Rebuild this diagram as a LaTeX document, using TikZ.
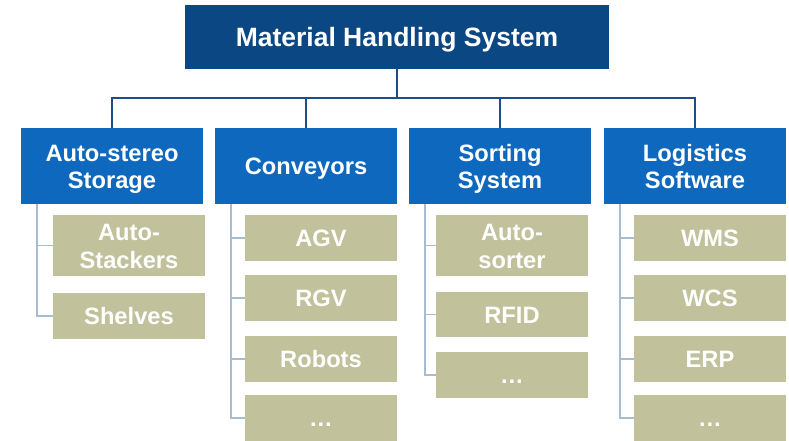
\documentclass[tikz,border=0pt]{standalone}
\usepackage{fontspec}
\setmainfont{Liberation Sans}
\definecolor{rootblue}{RGB}{11,71,131}
\definecolor{catblue}{RGB}{14,104,189}
\definecolor{itemtan}{RGB}{193,193,156}
\definecolor{busblue}{RGB}{28,78,138}
\definecolor{treegray}{RGB}{167,187,209}
\begin{document}
\begin{tikzpicture}[x=1pt,y=-1pt,
  rootbox/.style={fill=rootblue,text=white,minimum width=424pt,minimum height=64pt,
    inner sep=0pt,text height=19pt,text depth=0pt,
    font=\fontsize{26.5}{30}\selectfont\bfseries},
  catbox/.style={fill=catblue,text=white,minimum width=182pt,minimum height=76pt,
    inner sep=0pt,align=center,font=\fontsize{23.7}{27.5}\selectfont\bfseries},
  itembox/.style={fill=itemtan,text=white,minimum width=152pt,
    inner sep=0pt,align=center,font=\fontsize{23.7}{28}\selectfont\bfseries},
  oneline/.style={text height=17pt,text depth=0pt},
  twoline/.style={text height=45pt,text depth=0pt},
  busline/.style={draw=busblue,line width=2pt},
  treeline/.style={draw=treegray,line width=1.6pt}]

  \useasboundingbox (0,0) rectangle (789,440);

  % root and categories
  \node[rootbox] (root) at (397,37) {Material Handling System};
  \node[catbox,twoline] (storage) at (112,166) {Auto-stereo\\Storage};
  \node[catbox,oneline] (conveyors) at (306,166) {Conveyors};
  \node[catbox,twoline] (sorting) at (500,166) {Sorting\\System};
  \node[catbox,twoline] (software) at (695,166) {Logistics\\Software};

  % items
  \node[itembox,twoline,minimum height=61pt] (stackers) at (129,245.5) {Auto-\\Stackers};
  \node[itembox,oneline,minimum height=46pt] (shelves) at (129,316) {Shelves};

  \node[itembox,oneline,minimum height=46pt] (agv) at (321,238) {AGV};
  \node[itembox,oneline,minimum height=46pt] (rgv) at (321,298) {RGV};
  \node[itembox,oneline,minimum height=46pt] (robots) at (321,359) {Robots};
  \node[itembox,oneline,minimum height=46pt] (convmore) at (321,418) {…};

  \node[itembox,twoline,minimum height=61pt] (sorter) at (512,245.5) {Auto-\\sorter};
  \node[itembox,oneline,minimum height=45pt] (rfid) at (512,314.5) {RFID};
  \node[itembox,oneline,minimum height=46pt] (sortmore) at (512,375) {…};

  \node[itembox,oneline,minimum height=46pt] (wms) at (710,238) {WMS};
  \node[itembox,oneline,minimum height=46pt] (wcs) at (710,298) {WCS};
  \node[itembox,oneline,minimum height=46pt] (erp) at (710,359) {ERP};
  \node[itembox,oneline,minimum height=46pt] (softmore) at (710,418) {…};

  % bus from root to categories
  \coordinate (bus) at (397,98);
  \draw[busline] (root.south) -- (bus);
  \foreach \c in {storage,conveyors,sorting,software}
  {
    \draw[busline] (bus) -| (\c.north);
  }

  % tree lines to items
  \foreach \c/\items in {storage/{stackers,shelves},
      conveyors/{agv,rgv,robots,convmore},
      sorting/{sorter,rfid,sortmore},
      software/{wms,wcs,erp,softmore}}
  {
    \foreach \i in \items
    {
      \draw[treeline] ([xshift=16pt]\c.south west) |- (\i.west);
    }
  }

\end{tikzpicture}
\end{document}
